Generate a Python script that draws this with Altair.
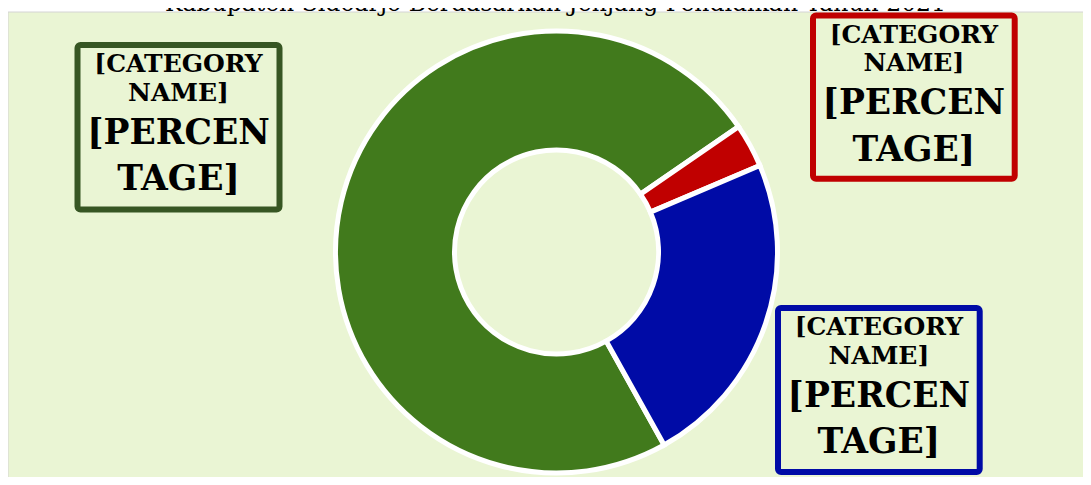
import math
import altair as alt
import pandas as pd

# ---- data ----
categories = ["Kategori 1", "Kategori 2", "Kategori 3"]
values = [73.5, 3.2, 23.3]
slice_order = [0, 1, 2]
colors = ["#417A1C", "#C00000", "#000BA6"]
box_colors = ["#375623", "#C00000", "#000BA6"]

title_text = "Kabupaten Sidoarjo Berdasarkan Jenjang Pendidikan Tahun 2021"
name_lines = ["[CATEGORY", "NAME]"]
pct_lines = ["[PERCEN", "TAGE]"]

df = pd.DataFrame({"category": categories, "value": values, "order": slice_order})

# ---- layout (view pixels) ----
W, H = 1075, 465
CX, CY = 548.5, 240
START = math.radians(150.85)
boxes = [  # x1, x2, y1, y2 of each label frame
    (69.5, 271.5, 33.0, 197.5),
    (805.0, 1006.7, 3.5, 166.7),
    (770.0, 971.7, 296.0, 460.0),
]
FONT = "DejaVu Serif"
GRID = "#D4D4D4"
BG = "#EAF5D4"

one = pd.DataFrame({"i": [0]})

donut = alt.Chart(df).mark_arc(
    outerRadius=221, innerRadius=102, stroke="white", strokeWidth=5
).encode(
    theta=alt.Theta("value:Q", stack=True,
                    scale=alt.Scale(range=[START, START + 2 * math.pi])),
    order=alt.Order("order:Q"),
    color=alt.Color("category:N",
                    scale=alt.Scale(domain=categories, range=colors),
                    legend=None),
    x=alt.value(CX),
    y=alt.value(CY),
)

border_left = alt.Chart(one).mark_rule(color=GRID, strokeWidth=1).encode(
    x=alt.value(0), y=alt.value(0), y2=alt.value(H)
)
border_top = alt.Chart(one).mark_rule(color=GRID, strokeWidth=1).encode(
    x=alt.value(0), x2=alt.value(W), y=alt.value(0)
)
title = alt.Chart(one).mark_text(
    font=FONT, fontSize=23.5, baseline="alphabetic", align="center", color="black"
).encode(x=alt.value(547.5), y=alt.value(-1.5), text=alt.value(title_text))

layers = [border_left, border_top, donut]
for (x1, x2, y1, y2), bc in zip(boxes, box_colors):
    xc = (x1 + x2) / 2
    layers.append(
        alt.Chart(one).mark_rect(filled=False, stroke=bc, strokeWidth=6,
                                 cornerRadius=3).encode(
            x=alt.value(x1), x2=alt.value(x2), y=alt.value(y1), y2=alt.value(y2)
        )
    )
    layers.append(
        alt.Chart(one).mark_text(font=FONT, fontWeight="bold", fontSize=25,
                                 lineHeight=28.5, baseline="alphabetic",
                                 align="center", color="black").encode(
            x=alt.value(xc), y=alt.value(y1 + 27), text=alt.value(name_lines)
        )
    )
    layers.append(
        alt.Chart(one).mark_text(font=FONT, fontWeight="bold", fontSize=34.5,
                                 lineHeight=46.7, baseline="alphabetic",
                                 align="center", color="black").encode(
            x=alt.value(xc), y=alt.value(y1 + 98.5), text=alt.value(pct_lines)
        )
    )
layers.append(title)

chart = alt.layer(*layers).properties(
    width=W,
    height=H,
    autosize="none",
    padding={"left": 0, "top": 4, "right": 0, "bottom": 0},
    background="white",
).configure_view(
    fill=BG, strokeWidth=0
)

chart.save("out.html", embed_options={"renderer": "svg", "actions": False})
